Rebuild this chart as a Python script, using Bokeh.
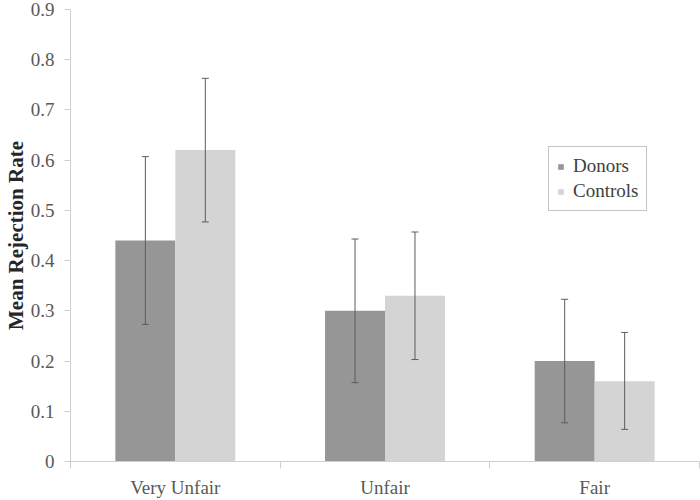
from bokeh.plotting import figure
from bokeh.models import (ColumnDataSource, Range1d, FixedTicker, Whisker, TeeHead,
                          Legend, LegendItem)
from bokeh.embed import file_html
from bokeh.resources import INLINE

# ---- data ----
categories = ["Very Unfair", "Unfair", "Fair"]
donors_mean = [0.44, 0.30, 0.20]
donors_lower = [0.273, 0.157, 0.077]
donors_upper = [0.607, 0.443, 0.323]
controls_mean = [0.62, 0.33, 0.16]
controls_lower = [0.477, 0.203, 0.064]
controls_upper = [0.763, 0.457, 0.257]
series_names = ["Donors", "Controls"]
y_ticks = [0, 0.1, 0.2, 0.3, 0.4, 0.5, 0.6, 0.7, 0.8, 0.9]
y_tick_labels = ["0", "0.1", "0.2", "0.3", "0.4", "0.5", "0.6", "0.7", "0.8", "0.9"]
y_label = "Mean Rejection Rate"

# ---- style ----
FONT = "Liberation Serif"
C_DON = "#969696"
C_CON = "#d4d4d4"
AXIS_C = "#cfcfcf"
TXT_C = "#595959"
ERR_C = "#5c5c5c"
BAR_W = 0.286
DODGE = 0.143
FS = "19px"

centers = [i + 0.5 for i in range(len(categories))]
src_d = ColumnDataSource(dict(x=[c - DODGE for c in centers], top=donors_mean,
                              lower=donors_lower, upper=donors_upper))
src_c = ColumnDataSource(dict(x=[c + DODGE for c in centers], top=controls_mean,
                              lower=controls_lower, upper=controls_upper))

p = figure(width=700, height=500, output_backend="svg", toolbar_location=None,
           x_range=Range1d(0, len(categories)), y_range=Range1d(0, 0.9),
           min_border_left=69, min_border_right=1, min_border_top=9, min_border_bottom=37)
p.outline_line_color = None
p.xgrid.visible = False
p.ygrid.visible = False
p.background_fill_color = "white"
p.border_fill_color = "white"

r_d = p.vbar(x="x", top="top", width=BAR_W, source=src_d, fill_color=C_DON, line_color=None)
r_c = p.vbar(x="x", top="top", width=BAR_W, source=src_c, fill_color=C_CON, line_color=None)

for s in (src_d, src_c):
    w = Whisker(base="x", upper="upper", lower="lower", source=s,
                line_color=ERR_C, line_width=1, level="overlay",
                upper_head=TeeHead(size=7, line_color=ERR_C, line_width=1),
                lower_head=TeeHead(size=7, line_color=ERR_C, line_width=1))
    p.add_layout(w)

# x axis: labels at category centres, tick marks at category boundaries (minor ticks)
xa = p.xaxis[0]
xa.ticker = FixedTicker(ticks=centers, minor_ticks=list(range(len(categories) + 1)))
xa.major_label_overrides = {c: n for c, n in zip(centers, categories)}
xa.major_tick_out = 0
xa.major_tick_in = 0
xa.minor_tick_out = 7
xa.minor_tick_in = 0
xa.minor_tick_line_color = AXIS_C
xa.axis_line_color = AXIS_C
xa.major_label_text_font = FONT
xa.major_label_text_font_size = FS
xa.major_label_text_color = TXT_C
xa.major_label_standoff = 8

ya = p.yaxis[0]
ya.ticker = FixedTicker(ticks=y_ticks, minor_ticks=[])
ya.major_label_overrides = {t: l for t, l in zip(y_ticks, y_tick_labels)}
ya.major_tick_out = 6
ya.major_tick_in = 0
ya.major_tick_line_color = AXIS_C
ya.axis_line_color = AXIS_C
ya.major_label_text_font = FONT
ya.major_label_text_font_size = FS
ya.major_label_text_color = TXT_C
ya.major_label_standoff = 10
ya.axis_label = y_label
ya.axis_label_text_font = FONT
ya.axis_label_text_font_size = "21px"
ya.axis_label_text_font_style = "bold"
ya.axis_label_text_color = "#262626"
ya.axis_label_standoff = 0

legend = Legend(items=[LegendItem(label=series_names[0], renderers=[r_d]),
                       LegendItem(label=series_names[1], renderers=[r_c])],
                location=(478, 250), glyph_width=7, glyph_height=7,
                label_height=22, spacing=3, padding=8, label_standoff=9,
                label_text_font=FONT, label_text_font_size=FS,
                label_text_color="#404040", border_line_color="#8c8c8c",
                border_line_width=1, background_fill_color="white", margin=0)
p.add_layout(legend)

open("out.html", "w").write(file_html(p, INLINE))
